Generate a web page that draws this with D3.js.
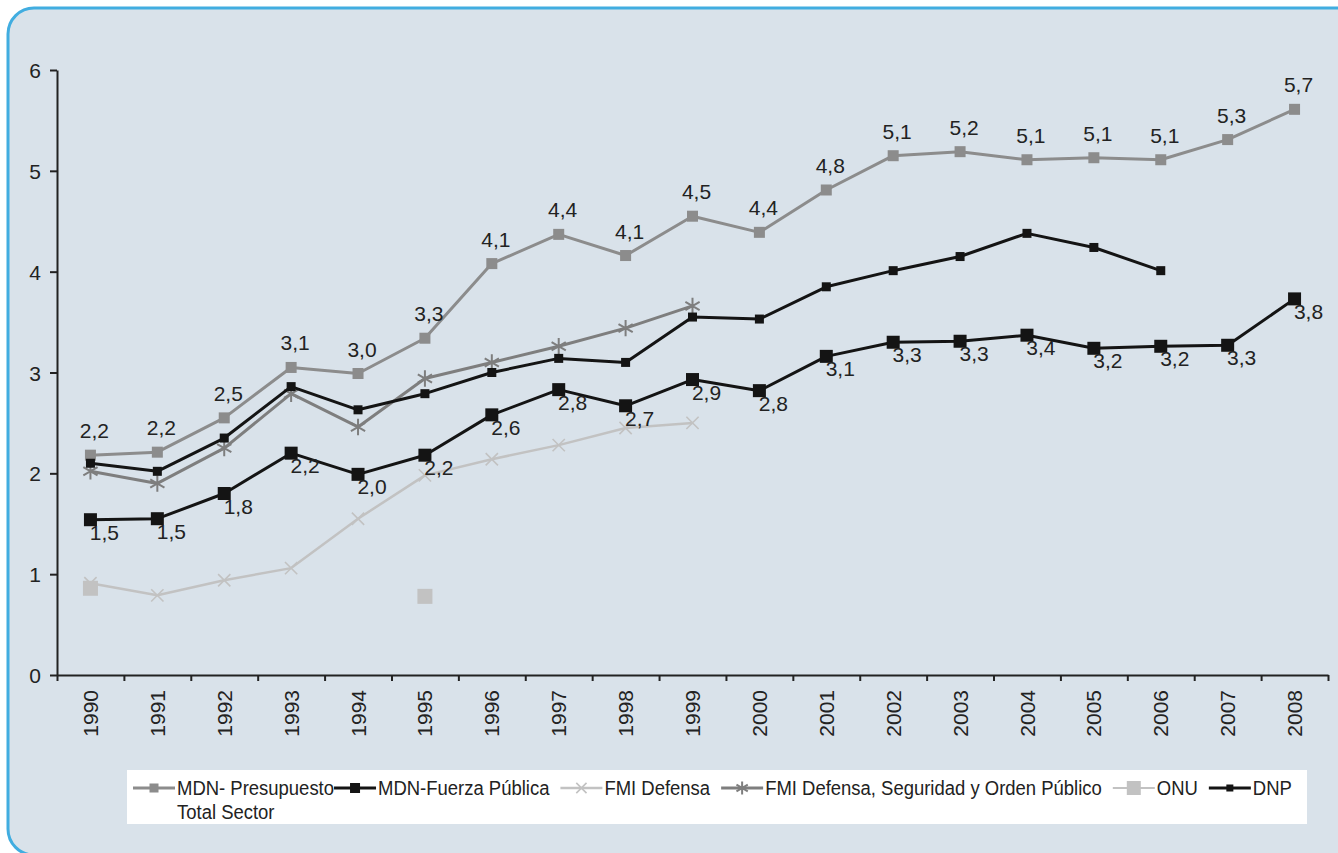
<!DOCTYPE html>
<html>
<head>
<meta charset="utf-8">
<script src="https://cdn.jsdelivr.net/npm/d3@7"></script>
<style>
  html, body { margin: 0; padding: 0; background: #ffffff; }
  svg { display: block; }
  text { font-family: "Liberation Sans", Arial, sans-serif; }
</style>
</head>
<body>
<svg id="chart" width="1338" height="853"></svg>
<script>
// ---- data ----
const years = ["1990","1991","1992","1993","1994","1995","1996","1997","1998","1999","2000","2001","2002","2003","2004","2005","2006","2007","2008"];
const yTicks = [0, 1, 2, 3, 4, 5, 6];

const presupuesto = [2.18, 2.21, 2.55, 3.05, 2.99, 3.34, 4.08, 4.37, 4.16, 4.55, 4.39, 4.81, 5.15, 5.19, 5.11, 5.13, 5.11, 5.31, 5.61];
const presupuestoLabels = ["2,2","2,2","2,5","3,1","3,0","3,3","4,1","4,4","4,1","4,5","4,4","4,8","5,1","5,2","5,1","5,1","5,1","5,3","5,7"];

const fuerza = [1.54, 1.55, 1.80, 2.20, 1.99, 2.18, 2.58, 2.83, 2.67, 2.93, 2.82, 3.16, 3.30, 3.31, 3.37, 3.24, 3.26, 3.27, 3.73];
const fuerzaLabels = ["1,5","1,5","1,8","2,2","2,0","2,2","2,6","2,8","2,7","2,9","2,8","3,1","3,3","3,3","3,4","3,2","3,2","3,3","3,8"];

const fmiDefensa = [0.91, 0.79, 0.94, 1.06, 1.55, 1.98, 2.14, 2.28, 2.45, 2.50, null, null, null, null, null, null, null, null, null];
const fmiDSOP = [2.02, 1.90, 2.25, 2.79, 2.46, 2.94, 3.10, 3.26, 3.44, 3.66, null, null, null, null, null, null, null, null, null];
const onu = [0.86, null, null, null, null, 0.78, null, null, null, null, null, null, null, null, null, null, null, null, null];
const dnp = [2.10, 2.02, 2.35, 2.86, 2.63, 2.79, 3.00, 3.14, 3.10, 3.55, 3.53, 3.85, 4.01, 4.15, 4.38, 4.24, 4.01, null, null];

const seriesNames = ["MDN- Presupuesto\nTotal Sector", "MDN-Fuerza Pública", "FMI Defensa", "FMI Defensa, Seguridad y Orden Público", "ONU", "DNP"];

// ---- styles ----
const styles = [
  { values: presupuesto, color: "#8c8c8c", width: 3, line: true, marker: "square", msize: 11, lmsize: 9 },
  { values: fuerza, color: "#141414", width: 3, line: true, marker: "square", msize: 13, lmsize: 10 },
  { values: fmiDefensa, color: "#c2c2c2", width: 2.5, line: true, marker: "x", msize: 100, lmsize: 70 },
  { values: fmiDSOP, color: "#7e7e7e", width: 3, line: true, marker: "asterisk", msize: 190, lmsize: 120 },
  { values: onu, color: "#c2c2c2", width: 2, line: false, marker: "square", msize: 15, lmsize: 14 },
  { values: dnp, color: "#141414", width: 3, line: true, marker: "square", msize: 9, lmsize: 7 }
];

const svg = d3.select("#chart");

// panel
svg.append("rect")
  .attr("x", 8).attr("y", 8)
  .attr("width", 1420).attr("height", 847)
  .attr("rx", 26).attr("ry", 26)
  .attr("fill", "#d9e2ea")
  .attr("stroke", "#41ade0")
  .attr("stroke-width", 3);

const plotLeft = 57, plotRight = 1328, plotTop = 70, plotBottom = 675;

const x = d3.scaleBand().domain(years).range([plotLeft, plotRight]).padding(0);
const xEdge = d3.scaleLinear().domain([0, years.length]).range([plotLeft, plotRight]);
const y = d3.scaleLinear().domain([0, 6]).range([plotBottom, plotTop]);
const cx = d => x(d) + x.bandwidth() / 2;

// y axis
const gy = svg.append("g").attr("transform", `translate(${plotLeft},0)`)
  .call(d3.axisLeft(y).tickValues(yTicks).tickFormat(d3.format("d")).tickSize(7).tickPadding(9).tickSizeOuter(0));
gy.select(".domain").attr("stroke", "#222").attr("stroke-width", 2);
gy.selectAll(".tick line").attr("stroke", "#222").attr("stroke-width", 2);
gy.selectAll(".tick text").attr("fill", "#222").style("font-size", "21px").attr("dy", "0.36em");

// x axis: boundary ticks
const gxe = svg.append("g").attr("transform", `translate(0,${plotBottom})`)
  .call(d3.axisBottom(xEdge).tickValues(d3.range(0, years.length + 1)).tickFormat("").tickSize(6).tickSizeOuter(0));
gxe.select(".domain").attr("stroke", "#222").attr("stroke-width", 2);
gxe.selectAll(".tick line").attr("stroke", "#222").attr("stroke-width", 2);

// x axis: labels
const gx = svg.append("g").attr("transform", `translate(0,${plotBottom})`)
  .call(d3.axisBottom(x).tickSize(0).tickPadding(0));
gx.select(".domain").remove();
gx.selectAll(".tick text")
  .attr("fill", "#222")
  .style("font-size", "21px")
  .attr("text-anchor", "end")
  .attr("transform", "translate(0,15) rotate(-90)")
  .attr("x", 0).attr("y", 0).attr("dy", "0.36em");

// markers
function drawMarker(g, type, color, size) {
  if (type === "square") {
    g.append("rect").attr("x", -size / 2).attr("y", -size / 2).attr("width", size).attr("height", size).attr("fill", color);
  } else if (type === "x") {
    g.append("path").attr("d", d3.symbol(d3.symbolX, size)()).attr("fill", "none").attr("stroke", color).attr("stroke-width", 1.6);
  } else if (type === "asterisk") {
    g.append("path").attr("d", d3.symbol(d3.symbolAsterisk, size)()).attr("fill", "none").attr("stroke", color).attr("stroke-width", 2);
  }
}

styles.forEach(s => {
  const pts = years.map((yr, i) => ({ yr, v: s.values[i] })).filter(p => p.v !== null);
  if (s.line) {
    svg.append("path")
      .datum(pts)
      .attr("fill", "none")
      .attr("stroke", s.color)
      .attr("stroke-width", s.width)
      .attr("stroke-linejoin", "round")
      .attr("d", d3.line().x(p => cx(p.yr)).y(p => y(p.v)));
  }
  pts.forEach(p => {
    const g = svg.append("g").attr("transform", `translate(${cx(p.yr)},${y(p.v)})`);
    drawMarker(g, s.marker, s.color, s.msize);
  });
});

// data labels
svg.append("g").selectAll("text").data(years).join("text")
  .attr("x", d => cx(d) + 4)
  .attr("y", (d, i) => y(presupuesto[i]) - 17)
  .attr("text-anchor", "middle")
  .attr("fill", "#222")
  .style("font-size", "21px")
  .text((d, i) => presupuestoLabels[i]);

svg.append("g").selectAll("text").data(years).join("text")
  .attr("x", d => cx(d) + 14)
  .attr("y", (d, i) => y(fuerza[i]) + 20)
  .attr("text-anchor", "middle")
  .attr("fill", "#222")
  .style("font-size", "21px")
  .text((d, i) => fuerzaLabels[i]);

// legend
const legend = svg.append("g");
legend.append("rect")
  .attr("x", 127).attr("y", 770).attr("width", 1180).attr("height", 54)
  .attr("fill", "#ffffff");

const legendScale = 0.88;
let lx = 133;
const ly = 788;
seriesNames.forEach((name, i) => {
  const s = styles[i];
  const g = legend.append("g");
  g.append("line").attr("x1", lx).attr("x2", lx + 42).attr("y1", ly).attr("y2", ly)
    .attr("stroke", s.color).attr("stroke-width", s.line ? s.width : 2);
  const mg = g.append("g").attr("transform", `translate(${lx + 21},${ly})`);
  drawMarker(mg, s.marker, s.color, s.lmsize);
  const lines = name.split("\n");
  const t = g.append("text")
    .attr("transform", `translate(${lx + 44},${ly + 7}) scale(${legendScale},1)`)
    .attr("fill", "#222")
    .style("font-size", "21px");
  lines.forEach((ln, k) => {
    t.append("tspan").attr("x", 0).attr("dy", k === 0 ? 0 : 24).text(ln);
  });
  const w = t.select("tspan").node().getComputedTextLength() * legendScale;
  lx = lx + 44 + w + (lines.length > 1 ? 0 : 11);
});
</script>
</body>
</html>
